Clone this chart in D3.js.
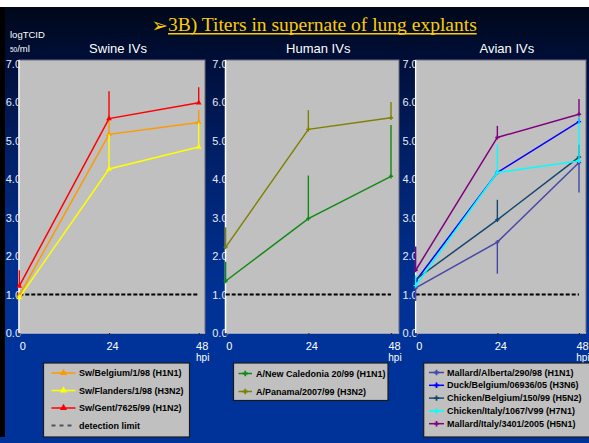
<!DOCTYPE html>
<html><head><meta charset="utf-8">
<script src="https://cdn.jsdelivr.net/npm/d3@7"></script>
<style>html,body{margin:0;padding:0;background:#fff;overflow:hidden}</style>
</head><body>
<svg id="chart" width="589" height="443"></svg>
<script>
// Sampling times (hours post inoculation) and axis labels
const hours = [0, 24, 48];
const hourLabels = ["0", "24", "48"];
const yTickValues = [0, 1, 2, 3, 4, 5, 6, 7];
const yTickLabels = ["0.0", "1.0", "2.0", "3.0", "4.0", "5.0", "6.0", "7.0"];
const detectionLimit = 1.0;
const panelTitles = ["Swine IVs", "Human IVs", "Avian IVs"];

// Swine influenza viruses: mean titer and end of the error bar
const swineNames = ["Sw/Belgium/1/98 (H1N1)", "Sw/Flanders/1/98 (H3N2)", "Sw/Gent/7625/99 (H1N2)"];
const swBelgium = [0.98, 5.16, 5.47];
const swBelgiumErr = [null, 5.55, 5.79];
const swFlanders = [0.92, 4.26, 4.83];
const swFlandersErr = [null, 5.16, 5.47];
const swGent = [1.22, 5.57, 5.98];
const swGentErr = [1.63, 6.28, 6.38];

// Human influenza viruses
const humanNames = ["A/New Caledonia 20/99 (H1N1)", "A/Panama/2007/99 (H3N2)"];
const newCaledonia = [1.35, 2.97, 4.07];
const newCaledoniaErr = [1.85, 4.09, 5.40];
const panama = [2.23, 5.29, 5.59];
const panamaErr = [2.75, 5.79, 6.00];

// Avian influenza viruses
const avianNames = ["Mallard/Alberta/290/98 (H1N1)", "Duck/Belgium/06936/05 (H3N6)",
  "Chicken/Belgium/150/99 (H5N2)", "Chicken/Italy/1067/V99 (H7N1)", "Mallard/Italy/3401/2005 (H5N1)"];
const mallardAlberta = [1.17, 2.36, 4.43];
const mallardAlbertaErr = [0.83, 1.54, 3.65];
const duckBelgium = [1.35, 4.17, 5.49];
const duckBelgiumErr = [null, null, 5.60];
const chickenBelgium = [1.39, 2.94, 4.57];
const chickenBelgiumErr = [null, 3.46, 4.89];
const chickenItaly = [1.23, 4.17, 4.47];
const chickenItalyErr = [1.50, 4.89, 5.62];
const mallardItaly = [1.63, 5.08, 5.68];
const mallardItalyErr = [2.25, 5.38, 6.08];

const detectionLabel = "detection limit";

// ---- styling ----
const swineColors = ["#ff9900", "#ffff00", "#ff0000"];
const humanColors = ["#128a12", "#808000"];
const avianColors = ["#4646a8", "#0000ff", "#164670", "#00ffff", "#800080"];

const groups = [
  { names: swineNames, colors: swineColors, marker: d3.symbolTriangle, msize: 14,
    values: [swBelgium, swFlanders, swGent], errs: [swBelgiumErr, swFlandersErr, swGentErr],
    box: { left: 19, right: 205, x0: 19.3, x48: 198.7 },
    legend: { x: 43.5, y: 363, w: 146, h: 74, lx0: 51.5, lx1: 75.5, tx: 79, ty0: 373, dy: 17.5, limit: true } },
  { names: humanNames, colors: humanColors, marker: d3.symbolCross, msize: 10,
    values: [newCaledonia, panama], errs: [newCaledoniaErr, panamaErr],
    box: { left: 225.5, right: 399, x0: 225.7, x48: 391 },
    legend: { x: 233.5, y: 363, w: 154.5, h: 37.5, lx0: 238.5, lx1: 252, tx: 256, ty0: 373.5, dy: 18 } },
  { names: avianNames, colors: avianColors, marker: d3.symbolCross, msize: 10,
    values: [mallardAlberta, duckBelgium, chickenBelgium, chickenItaly, mallardItaly],
    errs: [mallardAlbertaErr, duckBelgiumErr, chickenBelgiumErr, chickenItalyErr, mallardItalyErr],
    box: { left: 415.7, right: 586, x0: 415.7, x48: 579 },
    legend: { x: 423.7, y: 363, w: 175, h: 74, lx0: 429, lx1: 444, tx: 447, ty0: 372.5, dy: 12.8 } }
];

const svg = d3.select("#chart");
const W = 589, H = 443;
const plotTop = 60, plotBottom = 333;
const y = d3.scaleLinear().domain([0, 7]).range([333, 63.5]);
const sans = "'Liberation Sans', Arial, sans-serif";

// background
const defs = svg.append("defs");
const bg = defs.append("linearGradient").attr("id", "bg").attr("x1", 0).attr("y1", 0).attr("x2", 0).attr("y2", 1);
[[0, "#000818"], [0.12, "#000e38"], [0.35, "#002068"], [0.6, "#002f8e"], [0.75, "#003399"], [1, "#003399"]]
  .forEach(([o, c]) => bg.append("stop").attr("offset", o).attr("stop-color", c));
svg.append("rect").attr("width", W).attr("height", H).attr("fill", "#ffffff");
svg.append("rect").attr("x", 0).attr("y", 7).attr("width", W).attr("height", H - 7).attr("fill", "url(#bg)");
svg.append("rect").attr("x", 0).attr("y", 7).attr("width", 5).attr("height", 430).attr("fill", "#000000");

// title
const title = svg.append("g");
title.append("text").attr("x", 151.5).attr("y", 31.5).attr("fill", "#ffcc00")
  .attr("font-family", "'DejaVu Sans', sans-serif").attr("font-size", 19.5).text("\u27A2");
const tt = title.append("text").attr("x", 168).attr("y", 31).attr("fill", "#ffcc00")
  .attr("font-family", "'Liberation Serif', 'Times New Roman', serif").attr("font-size", 19.5)
  .text("3B) Titers in supernate of lung explants");
const tw = tt.node().getComputedTextLength();
title.append("line").attr("x1", 168).attr("x2", 168 + tw).attr("y1", 33.8).attr("y2", 33.8)
  .attr("stroke", "#ffcc00").attr("stroke-width", 1.5);

// y-axis caption
const cap = svg.append("g").attr("fill", "#ffffff").attr("font-family", sans);
cap.append("text").attr("x", 10).attr("y", 38).attr("font-size", 9.5).text("logTCID");
const c2 = cap.append("text").attr("x", 10).attr("y", 51.5).attr("font-size", 9.5);
c2.append("tspan").attr("font-size", 6.5).text("50");
c2.append("tspan").text("/ml");

groups.forEach((g, gi) => {
  const b = g.box;
  const x = d3.scaleLinear().domain([0, 48]).range([b.x0, b.x48]);
  const panel = svg.append("g");

  // panel title
  panel.append("text").attr("x", (b.left + b.right) / 2 + 6).attr("y", 53)
    .attr("text-anchor", "middle").attr("fill", "#ffffff").attr("font-family", sans)
    .attr("font-size", 13).text(panelTitles[gi]);

  // y tick labels (partly tucked under the plot area)
  const ya = panel.append("g").attr("transform", `translate(${b.left + 2},0)`)
    .call(d3.axisLeft(y).tickValues(yTickValues).tickSize(0).tickPadding(0)
      .tickFormat((d, i) => yTickLabels[i]));
  ya.select(".domain").remove();
  ya.selectAll("text").attr("fill", "#e8ecf8").attr("font-family", sans).attr("font-size", 11);

  // plot area
  panel.append("rect").attr("x", b.left).attr("y", plotTop).attr("width", b.right - b.left)
    .attr("height", plotBottom - plotTop).attr("fill", "#c0c0c0")
    .attr("stroke", "#6c6c78").attr("stroke-width", 1);

  // x axis
  const xa = panel.append("g").attr("transform", `translate(0,${plotBottom})`)
    .call(d3.axisBottom(x).tickValues(hours).tickSize(3).tickPadding(6)
      .tickFormat((d, i) => hourLabels[i]));
  xa.select(".domain").attr("stroke", "#f0f0f0").attr("stroke-width", 1.2)
    .attr("d", `M${b.left},0H${b.right}`);
  xa.selectAll(".tick line").attr("stroke", "#2a2a40").attr("stroke-width", 1.2);
  xa.selectAll(".tick text").attr("fill", "#ffffff").attr("font-family", sans)
    .attr("font-size", 11).attr("dx", 3);
  panel.append("text").attr("x", x(48) + 4).attr("y", 360.5).attr("text-anchor", "middle")
    .attr("fill", "#ffffff").attr("font-family", sans).attr("font-size", 10).text("hpi");

  // left axis line
  panel.append("line").attr("x1", b.left).attr("x2", b.left).attr("y1", plotTop).attr("y2", plotBottom)
    .attr("stroke", "#ffffff").attr("stroke-width", 1.5);

  // detection limit
  panel.append("line").attr("x1", x(0)).attr("x2", x(48))
    .attr("y1", y(detectionLimit)).attr("y2", y(detectionLimit))
    .attr("stroke", "#000000").attr("stroke-width", 2).attr("stroke-dasharray", "4,2");

  // series
  const line = d3.line().x((d, i) => x(hours[i])).y(d => y(d));
  g.values.forEach((vals, si) => {
    const col = g.colors[si];
    const s = panel.append("g");
    g.errs[si].forEach((e, i) => {
      if (e == null) return;
      s.append("line").attr("x1", x(hours[i])).attr("x2", x(hours[i]))
        .attr("y1", y(vals[i])).attr("y2", y(e)).attr("stroke", col).attr("stroke-width", 1.4);
    });
    s.append("path").attr("d", line(vals)).attr("fill", "none")
      .attr("stroke", col).attr("stroke-width", 1.5);
    s.selectAll("path.m").data(vals).join("path").attr("class", "m")
      .attr("transform", (d, i) => `translate(${x(hours[i])},${y(d)})`)
      .attr("d", d3.symbol().type(g.marker).size(g.msize)).attr("fill", col);
  });

  // legend
  const L = g.legend;
  const lg = svg.append("g");
  lg.append("rect").attr("x", L.x).attr("y", L.y).attr("width", L.w).attr("height", L.h)
    .attr("fill", "#c0c0c0").attr("stroke", "#1a1a1a").attr("stroke-width", 1.2);
  g.names.forEach((n, i) => {
    const yy = L.ty0 + i * L.dy;
    lg.append("line").attr("x1", L.lx0).attr("x2", L.lx1).attr("y1", yy).attr("y2", yy)
      .attr("stroke", g.colors[i]).attr("stroke-width", 1.5);
    lg.append("path").attr("transform", `translate(${(L.lx0 + L.lx1) / 2},${yy})`)
      .attr("d", d3.symbol().type(g.marker).size(g.msize * 1.6)).attr("fill", g.colors[i]);
    lg.append("text").attr("x", L.tx).attr("y", yy).attr("dy", "0.35em")
      .attr("font-family", sans).attr("font-weight", "bold").attr("font-size", 9)
      .attr("fill", "#000000").text(n);
  });
  if (L.limit) {
    const yy = L.ty0 + g.names.length * L.dy;
    lg.append("line").attr("x1", L.lx0).attr("x2", L.lx1).attr("y1", yy).attr("y2", yy)
      .attr("stroke", "#50505a").attr("stroke-width", 2).attr("stroke-dasharray", "4,4");
    lg.append("text").attr("x", L.tx).attr("y", yy).attr("dy", "0.35em")
      .attr("font-family", sans).attr("font-weight", "bold").attr("font-size", 9)
      .attr("fill", "#000000").text(detectionLabel);
  }
});
</script>
</body></html>
